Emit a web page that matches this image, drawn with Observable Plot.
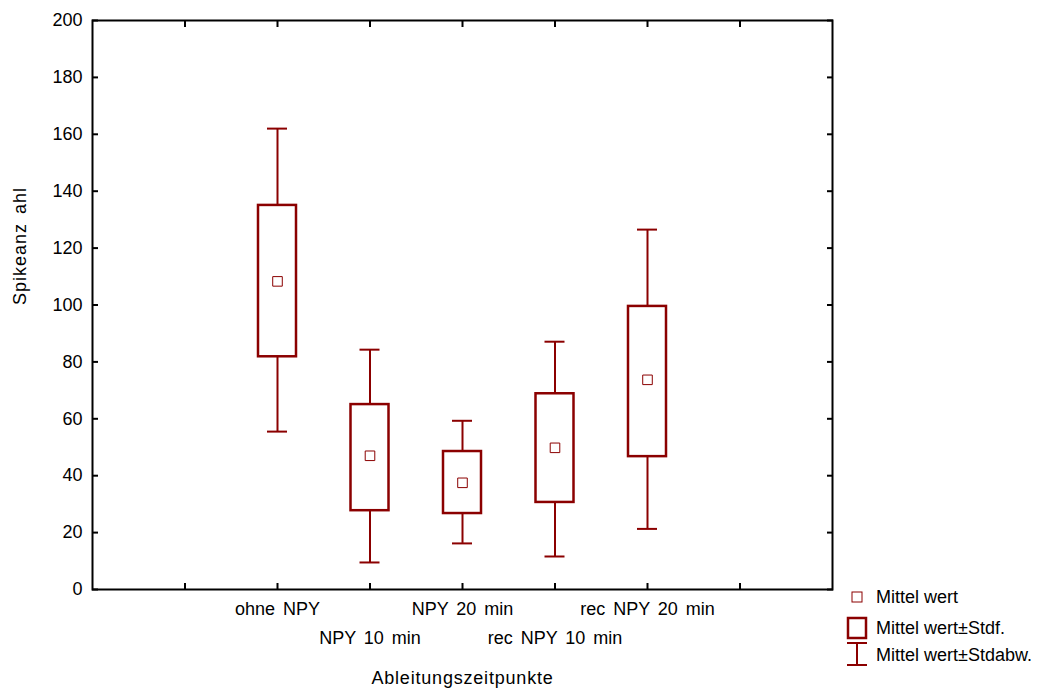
<!DOCTYPE html>
<html>
<head>
<meta charset="utf-8">
<script src="https://cdn.jsdelivr.net/npm/d3@7"></script>
<script src="https://cdn.jsdelivr.net/npm/@observablehq/plot@0.6"></script>
<style>
  html, body { margin: 0; padding: 0; background: #fff; }
  #chart { position: relative; width: 1044px; height: 694px; }
  svg { font-family: "Liberation Sans", Arial, sans-serif; }
  .xlab { word-spacing: 3px; }
  .xtitle { letter-spacing: 0.8px; }
  .ytitle { letter-spacing: 1px; word-spacing: 3px; }
</style>
</head>
<body>
<div id="chart"></div>
<script>
const categories = ["ohne NPY", "NPY 10 min", "NPY 20 min", "rec NPY 10 min", "rec NPY 20 min"];
const means      = [108.3, 47.0, 37.5, 49.8, 73.7];
const boxLow     = [81.8, 27.7, 26.7, 30.6, 46.7];
const boxHigh    = [135.0, 65.0, 48.5, 68.8, 99.5];
const whiskLow   = [55.5, 9.5, 16.2, 11.6, 21.3];
const whiskHigh  = [162.0, 84.3, 59.3, 87.1, 126.5];
const yTicks = [0, 20, 40, 60, 80, 100, 120, 140, 160, 180, 200];
const xTicks = [1, 2, 3, 4, 5, 6, 7];
const xLabel = "Ableitungszeitpunkte";
const yLabel = "Spikeanz ahl";
const legendLabels = ["Mittel wert", "Mittel wert\u00B1Stdf.", "Mittel wert\u00B1Stdabw."];

const color = "#8B0000";
const rows = categories.map((c, i) => ({
  cat: c, pos: i + 2, mean: means[i], lo: boxLow[i], hi: boxHigh[i], wlo: whiskLow[i], whi: whiskHigh[i], row: i % 2
}));

const W = 1044, H = 694;
const mL = 92, mR = 212, mT = 20, mB = 105;
const band = (W - mL - mR) / 8;
const boxInset = (band - 38) / 2;
const capInset = (band - 20) / 2;
const fs = 18;

const chart = Plot.plot({
  width: W, height: H,
  marginLeft: mL, marginRight: mR, marginTop: mT, marginBottom: mB,
  style: { fontFamily: "Liberation Sans, Arial, sans-serif", fontSize: fs + "px", color: "#000", background: "#fff", overflow: "visible" },
  x: { domain: [0, 8] },
  y: { domain: [0, 200] },
  marks: [
    // whiskers
    Plot.ruleX(rows, { x: "pos", y1: "hi", y2: "whi", stroke: color, strokeWidth: 2 }),
    Plot.ruleX(rows, { x: "pos", y1: "wlo", y2: "lo", stroke: color, strokeWidth: 2 }),
    Plot.ruleY(rows, { y: "whi", x1: d => d.pos - 0.5, x2: d => d.pos + 0.5, insetLeft: capInset, insetRight: capInset, stroke: color, strokeWidth: 2 }),
    Plot.ruleY(rows, { y: "wlo", x1: d => d.pos - 0.5, x2: d => d.pos + 0.5, insetLeft: capInset, insetRight: capInset, stroke: color, strokeWidth: 2 }),
    // boxes
    Plot.rect(rows, { x1: d => d.pos - 0.5, x2: d => d.pos + 0.5, y1: "lo", y2: "hi", insetLeft: boxInset, insetRight: boxInset, fill: "white", stroke: color, strokeWidth: 2.5 }),
    // means
    Plot.dot(rows, { x: "pos", y: "mean", symbol: "square", r: 5.4, stroke: color, strokeWidth: 1, fill: "none" }),
    // frame
    Plot.frame({ stroke: "#000", strokeWidth: 2 }),
    // inward ticks
    Plot.axisY({ ticks: yTicks, anchor: "left", tickSize: 6, dx: 6, tickFormat: () => "", strokeWidth: 2, label: null }),
    Plot.axisY({ ticks: yTicks, anchor: "right", tickSize: 6, dx: -6, tickFormat: () => "", strokeWidth: 2, label: null }),
    Plot.axisX({ ticks: xTicks, anchor: "bottom", tickSize: 6, dy: -6, tickFormat: () => "", strokeWidth: 2, label: null }),
    Plot.axisX({ ticks: xTicks, anchor: "top", tickSize: 6, dy: 6, tickFormat: () => "", strokeWidth: 2, label: null }),
    // y tick labels
    Plot.axisY({ ticks: yTicks, anchor: "left", tickSize: 0, tickPadding: 10, label: null, fontSize: fs }),
    // x category labels (two staggered rows)
    Plot.text(rows.filter(d => d.row === 0), { x: "pos", text: "cat", frameAnchor: "bottom", dy: 25, fontSize: fs, className: "xlab" }),
    Plot.text(rows.filter(d => d.row === 1), { x: "pos", text: "cat", frameAnchor: "bottom", dy: 54, fontSize: fs, className: "xlab" }),
    // axis titles
    Plot.text([xLabel], { frameAnchor: "bottom", dy: 94, fontSize: fs, className: "xtitle" }),
    Plot.text([yLabel], { frameAnchor: "left", dx: -72, rotate: -90, fontSize: fs, className: "ytitle" })
  ]
});
document.getElementById("chart").appendChild(chart);

// legend drawn into the same SVG
const svg = d3.select(chart);
const lg = svg.append("g").attr("font-family", "Liberation Sans, Arial, sans-serif").attr("font-size", fs).attr("text-anchor", "start");
const lx = 857, tx = 876;
const ly = [597, 628, 655];
lg.append("rect").attr("x", lx - 5).attr("y", ly[0] - 5).attr("width", 10).attr("height", 10)
  .attr("fill", "none").attr("stroke", color).attr("stroke-width", 1);
lg.append("rect").attr("x", lx - 9).attr("y", ly[1] - 10).attr("width", 18).attr("height", 20)
  .attr("fill", "none").attr("stroke", color).attr("stroke-width", 2.5);
lg.append("line").attr("x1", lx).attr("x2", lx).attr("y1", ly[2] - 12).attr("y2", ly[2] + 10).attr("stroke", color).attr("stroke-width", 2);
lg.append("line").attr("x1", lx - 10).attr("x2", lx + 10).attr("y1", ly[2] - 12).attr("y2", ly[2] - 12).attr("stroke", color).attr("stroke-width", 2);
lg.append("line").attr("x1", lx - 10).attr("x2", lx + 10).attr("y1", ly[2] + 10).attr("y2", ly[2] + 10).attr("stroke", color).attr("stroke-width", 2);
lg.selectAll("text.lab").data(legendLabels).join("text").attr("class", "lab")
  .attr("x", tx).attr("y", (d, i) => ly[i]).attr("dy", "0.35em").attr("fill", "#000").attr("text-anchor", "start").text(d => d);
</script>
</body>
</html>
